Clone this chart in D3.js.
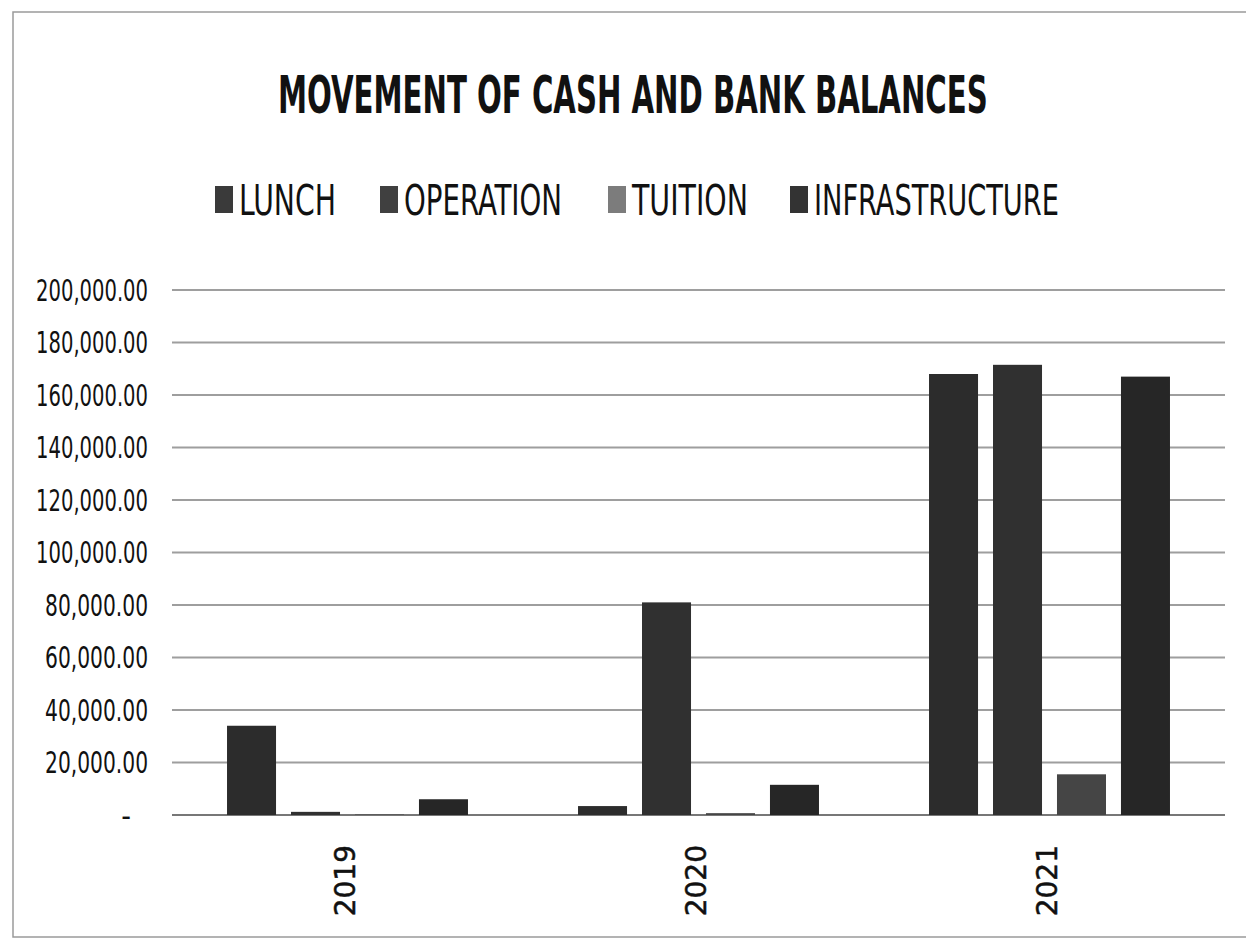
<!doctype html>
<html>
<head>
  <meta charset="utf-8">
  <script src="https://cdnjs.cloudflare.com/ajax/libs/d3/7.8.5/d3.min.js"></script>
  <style>
    body { margin: 0; background: #fff; }
    svg { display: block; }
    .narrow { font-family: "DejaVu Sans Condensed", "Liberation Sans Narrow", sans-serif; }
  </style>
</head>
<body>
  <svg id="chart" width="1246" height="944"></svg>
  <script>
    // data
    var years = ["2019", "2020", "2021"];
    var series = ["LUNCH", "OPERATION", "TUITION", "INFRASTRUCTURE"];
    var lunch = [34000, 3400, 168000];
    var operation = [1200, 81000, 171500];
    var tuition = [200, 700, 15500];
    var infrastructure = [6000, 11500, 167000];
    var yTicks = [0, 20000, 40000, 60000, 80000, 100000, 120000, 140000, 160000, 180000, 200000];

    var colors = ["#2c2c2c", "#303030", "#454545", "#262626"];
    var legendColors = ["#3a3a3a", "#404040", "#7c7c7c", "#333333"];
    var values = [lunch, operation, tuition, infrastructure];

    var svg = d3.select("#chart");

    // squeeze a text horizontally so it is w pixels wide (the scan uses a narrow face)
    function squeeze(sel, w, anchorX) {
      sel.each(function () {
        var t = d3.select(this);
        var len = this.getComputedTextLength();
        var target = typeof w === "function" ? w(t.text()) : w;
        var k = target / len;
        var ax = typeof anchorX === "function" ? anchorX(t.text()) : anchorX;
        t.attr("transform", "translate(" + ax + ",0) scale(" + k + ",1) translate(" + (-ax) + ",0)");
      });
    }

    // faint frame of the scanned page
    svg.append("rect")
      .attr("x", 13).attr("y", 12)
      .attr("width", 1250).attr("height", 925)
      .attr("fill", "none")
      .attr("stroke", "#9a9a9a")
      .attr("stroke-width", 1.5);

    var x0 = d3.scaleBand().domain(years).range([172, 1225]);
    var x1 = d3.scaleBand().domain(series).range([0, x0.bandwidth()])
      .paddingInner(0.234).paddingOuter(0.86);
    var y = d3.scaleLinear().domain([0, 200000]).range([815, 290]);

    // gridlines
    svg.append("g").selectAll("line")
      .data(yTicks)
      .enter()
      .append("line")
      .attr("x1", 172).attr("x2", 1225)
      .attr("y1", d => y(d)).attr("y2", d => y(d))
      .attr("stroke", d => d === 0 ? "#777" : "#9e9e9e")
      .attr("stroke-width", d => d === 0 ? 2 : 1.8);

    // y axis labels
    var yl = svg.append("g").selectAll("text")
      .data(yTicks)
      .enter()
      .append("text")
      .attr("class", "narrow")
      .attr("x", d => d === 0 ? 131 : 148)
      .attr("y", d => y(d))
      .attr("dy", "0.36em")
      .attr("text-anchor", "end")
      .attr("font-size", 30)
      .attr("fill", "#111")
      .text(d => d === 0 ? "-" : d3.format(",.2f")(d));
    yl.filter(d => d !== 0).call(squeeze, s => s.length === 10 ? 112 : 103, 148);

    // bars
    var groups = svg.append("g").selectAll("g")
      .data(years)
      .enter()
      .append("g")
      .attr("transform", d => "translate(" + x0(d) + ",0)");

    groups.selectAll("rect")
      .data((yr, i) => series.map((s, j) => ({ s: s, j: j, v: values[j][i] })))
      .enter()
      .append("rect")
      .attr("x", d => x1(d.s))
      .attr("width", x1.bandwidth())
      .attr("y", d => y(d.v))
      .attr("height", d => y(0) - y(d.v))
      .attr("fill", d => colors[d.j]);

    // year labels, rotated
    svg.append("g").selectAll("text")
      .data(years)
      .enter()
      .append("text")
      .attr("transform", d => "translate(" + (x0(d) + x0.bandwidth() / 2 - 3) + ",845) rotate(-90)")
      .attr("text-anchor", "end")
      .attr("dy", "0.36em")
      .attr("font-family", "DejaVu Sans, Verdana, sans-serif")
      .attr("font-size", 28)
      .attr("stroke", "#111")
      .attr("stroke-width", 0.5)
      .attr("fill", "#111")
      .text(d => d);

    // title
    svg.append("text")
      .attr("class", "narrow")
      .attr("x", 278).attr("y", 113)
      .attr("font-size", 52)
      .attr("font-weight", "bold")
      .attr("fill", "#111")
      .text("MOVEMENT OF CASH AND BANK BALANCES")
      .call(squeeze, 710, 278);

    // legend
    var legendX = [215, 380, 608, 790];
    var legendW = [97, 158, 116, 245];
    var leg = svg.append("g").selectAll("g")
      .data(series)
      .enter()
      .append("g")
      .attr("transform", (d, i) => "translate(" + legendX[i] + ",0)");
    leg.append("rect")
      .attr("x", 0).attr("y", 186)
      .attr("width", 18).attr("height", 27)
      .attr("fill", (d, i) => legendColors[i]);
    leg.append("text")
      .attr("class", "narrow")
      .attr("x", 24)
      .attr("y", 215)
      .attr("font-size", 42)
      .attr("fill", "#111")
      .text(d => d)
      .each(function (d, i) { d3.select(this).call(squeeze, legendW[i], 24); });
  </script>
</body>
</html>
